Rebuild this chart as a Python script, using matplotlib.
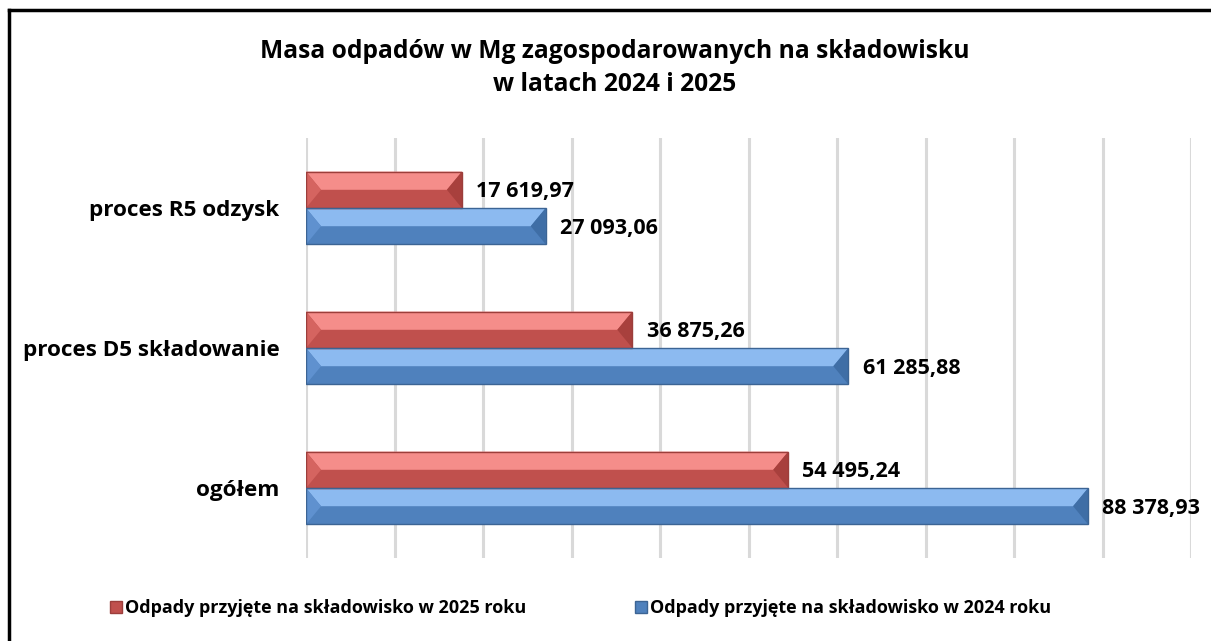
import numpy as np
import matplotlib.pyplot as plt
from matplotlib.patches import Polygon
from matplotlib.lines import Line2D

categories = ["proces R5 odzysk", "proces D5 składowanie", "ogółem"]
vals_2025 = [17619.97, 36875.26, 54495.24]
vals_2024 = [27093.06, 61285.88, 88378.93]
labels_2025 = ["17 619,97", "36 875,26", "54 495,24"]
labels_2024 = ["27 093,06", "61 285,88", "88 378,93"]
legend_labels = ["Odpady przyjęte na składowisko w 2025 roku",
                 "Odpady przyjęte na składowisko w 2024 roku"]
title = "Masa odpadów w Mg zagospodarowanych na składowisku\nw latach 2024 i 2025"

plt.rcParams['font.family'] = ['Open Sans', 'DejaVu Sans']

W, H = 1211, 641
fig = plt.figure(figsize=(W / 100, H / 100), dpi=100)
ax = fig.add_axes([306 / W, (H - 558) / H, (1191 - 306) / W, (558 - 138) / H])

xmax = 100000
ax.set_xlim(0, xmax)
ax.set_ylim(2.5, -0.5)
ax.set_xticks(np.arange(0, xmax + 1, 10000))
ax.set_xticklabels([])
ax.set_yticks(range(len(categories)))
ax.set_yticklabels(categories, fontsize=16.2, fontweight='bold')
ax.tick_params(length=0, pad=19)
ax.grid(axis='x', color='#d9d9d9', linewidth=2.2)
ax.set_axisbelow(True)
for s in ax.spines.values():
    s.set_visible(False)

h = 0.26
bev_x = 1700  # bevel width in data units
styles = [
    # light top, dark bottom, left tri, right tri, edge
    ("#f58d8a", "#c0504d", "#d56460", "#a8403d", "#9c3e3b"),
    ("#8cbaf0", "#4f81bd", "#5f91cf", "#3f6ea6", "#3c6494"),
]


def bevel_bar(y0, y1, x1, st):
    light, dark, lt, rt, edge = st
    ym = (y0 + y1) / 2
    b = min(bev_x, x1 / 2)
    ax.add_patch(Polygon([(0, y0), (x1, y0), (x1, y1), (0, y1)], closed=True,
                         facecolor=dark, edgecolor='none', zorder=3))
    ax.add_patch(Polygon([(0, y0), (x1, y0), (x1 - b, ym), (b, ym)], closed=True,
                         facecolor=light, edgecolor='none', zorder=4))
    ax.add_patch(Polygon([(0, y0), (b, ym), (0, y1)], closed=True,
                         facecolor=lt, edgecolor='none', zorder=4))
    ax.add_patch(Polygon([(x1, y0), (x1 - b, ym), (x1, y1)], closed=True,
                         facecolor=rt, edgecolor='none', zorder=4))
    ax.add_patch(Polygon([(0, y0), (x1, y0), (x1, y1), (0, y1)], closed=True,
                         facecolor='none', edgecolor=edge, linewidth=1.0, zorder=5))


for i in range(len(categories)):
    # 2025 (upper)
    bevel_bar(i - h, i, vals_2025[i], styles[0])
    ax.text(vals_2025[i] + 1600, i - h / 2 + 0.01, labels_2025[i], fontsize=15.5,
            fontweight='bold', va='center', ha='left', zorder=6)
    # 2024 (lower)
    bevel_bar(i, i + h, vals_2024[i], styles[1])
    ax.text(vals_2024[i] + 1600, i + h / 2 + 0.015, labels_2024[i], fontsize=15.5,
            fontweight='bold', va='center', ha='left', zorder=6)

fig.text(615 / W, 1 - 68 / H, title, ha='center', va='center', fontsize=17.7,
         fontweight='bold', linespacing=1.45)

# legend
handles = [Line2D([], [], marker='s', linestyle='none', markersize=8,
                  markerfacecolor=styles[k][1], markeredgecolor=styles[k][4])
           for k in range(2)]
fig.legend(handles, legend_labels, loc='center', bbox_to_anchor=(580 / W, 1 - 608 / H),
           ncol=2, frameon=False, prop={'weight': 'bold', 'size': 13.0},
           handletextpad=0.1, columnspacing=6.0, handlelength=0.8)

# outer frame (top and left edges visible)
fig.add_artist(Line2D([9 / W, 1], [1 - 10 / H, 1 - 10 / H], color='black', linewidth=2.5))
fig.add_artist(Line2D([9 / W, 9 / W], [0, 1 - 10 / H], color='black', linewidth=2.5))

fig.savefig("out.png", dpi=100, facecolor='white')
